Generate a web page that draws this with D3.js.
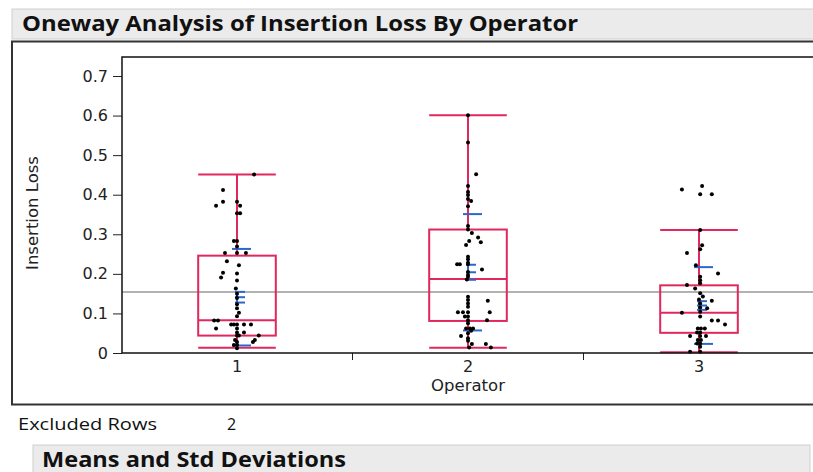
<!DOCTYPE html>
<html>
<head>
<meta charset="utf-8">
<script src="https://cdn.jsdelivr.net/npm/d3@7"></script>
<style>
  body { margin: 0; background: #fff; }
  svg { display: block; }
</style>
</head>
<body>
<svg id="chart" width="813" height="472"></svg>
<script>
// categories and tick labels
var operators = ["1", "2", "3"];
var yTicks = [0, 0.1, 0.2, 0.3, 0.4, 0.5, 0.6, 0.7];

// box plot summaries, one entry per operator
var whiskerLow  = [0.013, 0.013, 0.002];
var quartile1   = [0.044, 0.081, 0.051];
var medians     = [0.083, 0.187, 0.102];
var quartile3   = [0.246, 0.312, 0.171];
var whiskerHigh = [0.451, 0.601, 0.311];
var means       = [0.141, 0.204, 0.120];
var stdDevs     = [0.122, 0.147, 0.097];
var stdErrs     = [0.0135, 0.019, 0.011];
var grandMean   = 0.154;

// observations: [insertion loss, jitter as a fraction of the half box width]
var operator1 = [
  [0.451, 0.44], [0.412, -0.36], [0.382, -0.36], [0.382, 0], [0.372, -0.54], [0.372, 0.08],
  [0.353, 0], [0.353, 0.08], [0.283, -0.08], [0.283, 0], [0.269, 0], [0.253, -0.31],
  [0.253, 0], [0.253, 0.23], [0.232, -0.26], [0.222, 0.05], [0.203, -0.36], [0.191, -0.41],
  [0.201, 0], [0.183, 0], [0.163, -0.03], [0.150, 0], [0.139, 0], [0.123, 0],
  [0.113, 0], [0.102, 0.05], [0.093, 0], [0.082, -0.59], [0.082, -0.49], [0.072, -0.15],
  [0.072, -0.08], [0.072, 0], [0.072, 0.18], [0.072, 0.36], [0.062, -0.54], [0.062, 0],
  [0.052, 0], [0.052, 0.18], [0.044, 0], [0.044, 0.05], [0.044, 0.56], [0.033, -0.05],
  [0.033, 0.46], [0.028, 0], [0.028, 0.41], [0.020, -0.08], [0.020, 0], [0.012, 0]
];
var operator2 = [
  [0.601, 0], [0.532, 0], [0.452, 0.21], [0.422, 0], [0.407, 0], [0.399, 0],
  [0.389, 0], [0.384, 0.08], [0.371, 0], [0.321, 0], [0.312, 0], [0.303, 0.10],
  [0.292, 0.26], [0.283, 0.03], [0.280, 0.33], [0.273, -0.05], [0.243, 0], [0.237, 0],
  [0.228, 0], [0.224, -0.28], [0.224, -0.21], [0.224, 0], [0.211, 0.36], [0.205, 0],
  [0.197, 0], [0.193, 0], [0.186, -0.03], [0.142, 0], [0.134, 0], [0.125, 0],
  [0.117, 0], [0.132, 0.51], [0.103, -0.26], [0.103, -0.13], [0.103, 0], [0.103, 0.56],
  [0.092, -0.08], [0.092, 0], [0.083, 0.49], [0.083, 0], [0.075, 0], [0.062, -0.05],
  [0.062, 0.05], [0.062, 0.13], [0.056, 0.08], [0.050, 0], [0.043, -0.18], [0.037, 0],
  [0.031, 0], [0.023, 0.46], [0.023, 0.10], [0.014, 0.03], [0.014, 0.59]
];
var operator3 = [
  [0.422, 0.08], [0.413, -0.44], [0.401, 0.03], [0.401, 0.33], [0.311, 0.03], [0.272, 0.08],
  [0.262, 0.03], [0.253, -0.31], [0.222, -0.08], [0.201, 0.49], [0.193, 0.03], [0.184, 0.03],
  [0.176, 0.03], [0.172, -0.31], [0.163, -0.10], [0.151, 0.03], [0.143, 0.10], [0.135, 0],
  [0.132, 0.33], [0.125, 0.03], [0.115, 0.03], [0.113, 0.21], [0.104, 0.03], [0.102, -0.44],
  [0.092, 0.03], [0.082, 0.33], [0.082, 0.49], [0.072, 0.67], [0.062, -0.03], [0.062, 0.05],
  [0.062, 0.15], [0.052, -0.05], [0.052, 0.03], [0.043, -0.23], [0.043, 0.03], [0.043, 0.18],
  [0.033, -0.03], [0.033, 0.05], [0.024, -0.05], [0.024, 0.03], [0.016, 0.03], [0.003, -0.23],
  [0.003, 0.03]
];
var observations = [operator1, operator2, operator3];

var pink = "#e0285e", blue = "#2c68c9";
var plot = { left: 122, top: 57, right: 815, bottom: 353 };
var labelFont = "'DejaVu Sans', sans-serif";

var svg = d3.select("#chart");

// ---- report chrome ----
svg.append("rect").attr("x", 12).attr("y", 9).attr("width", 810).attr("height", 30)
    .attr("fill", "#ebebeb").attr("stroke", "#cfcfcf");
svg.append("text").attr("x", 22).attr("y", 31)
    .attr("textLength", 556).attr("lengthAdjust", "spacingAndGlyphs")
    .style("font-family", "'Open Sans', sans-serif").style("font-weight", 700)
    .style("font-size", "22px").style("fill", "#111")
    .text("Oneway Analysis of Insertion Loss By Operator");

svg.append("rect").attr("x", 12).attr("y", 41.5).attr("width", 820).attr("height", 363)
    .attr("fill", "#fff").attr("stroke", "#333").attr("stroke-width", 2);

// ---- scales ----
var y = d3.scaleLinear().domain([0, 0.748]).range([plot.bottom, plot.top]);
var x = d3.scaleBand().domain(operators).range([121.5, 814.5]);
var bw = x.bandwidth();
var halfBox = bw * 0.168;
function cx(i) { return x(operators[i]) + bw / 2; }

// ---- axes ----
var yAxis = svg.append("g").attr("transform", "translate(" + plot.left + ",0)")
    .call(d3.axisLeft(y).tickValues(yTicks).tickSize(9).tickPadding(5)
      .tickFormat(function(d) { return d === 0 ? "0" : d3.format(".1f")(d); }));
yAxis.select(".domain").remove();
yAxis.selectAll("line").attr("stroke", "#222");
yAxis.selectAll("text").style("font-family", labelFont)
    .style("font-size", "16px").style("fill", "#222");

var xAxis = svg.append("g").attr("transform", "translate(0," + plot.bottom + ")")
    .call(d3.axisBottom(x).tickSize(0).tickPadding(8));
xAxis.select(".domain").remove();
xAxis.selectAll("text").style("font-family", labelFont)
    .style("font-size", "16px").style("fill", "#222");

// minor ticks between the operator groups
svg.append("g").selectAll("line").data(operators.slice(1)).join("line")
    .attr("x1", function(d) { return x(d); }).attr("x2", function(d) { return x(d); })
    .attr("y1", plot.bottom).attr("y2", plot.bottom + 7)
    .attr("stroke", "#222");

svg.append("text").attr("transform", "translate(38," + ((plot.top + plot.bottom) / 2 + 8) + ") rotate(-90)")
    .attr("text-anchor", "middle")
    .style("font-family", labelFont).style("font-size", "16.5px").style("fill", "#222")
    .text("Insertion Loss");
svg.append("text").attr("x", cx(1)).attr("y", 391).attr("text-anchor", "middle")
    .style("font-family", labelFont).style("font-size", "16.5px").style("fill", "#222")
    .text("Operator");

// ---- plot area ----
var g = svg.append("g");
g.append("line").attr("x1", plot.left).attr("x2", plot.right)
    .attr("y1", y(grandMean)).attr("y2", y(grandMean))
    .attr("stroke", "#999").attr("stroke-width", 1.5);

operators.forEach(function(op, i) {
  var c = cx(i), box = g.append("g").attr("fill", "none").attr("stroke", pink).attr("stroke-width", 2);
  box.append("line").attr("x1", c).attr("x2", c).attr("y1", y(quartile3[i])).attr("y2", y(whiskerHigh[i]));
  box.append("line").attr("x1", c).attr("x2", c).attr("y1", y(quartile1[i])).attr("y2", y(whiskerLow[i]));
  [whiskerHigh[i], whiskerLow[i], medians[i]].forEach(function(v) {
    box.append("line").attr("x1", c - halfBox).attr("x2", c + halfBox).attr("y1", y(v)).attr("y2", y(v));
  });
  box.append("rect").attr("x", c - halfBox).attr("y", y(quartile3[i]))
      .attr("width", halfBox * 2).attr("height", y(quartile1[i]) - y(quartile3[i]));

  // std dev lines and mean error bars
  var b = g.append("g").attr("stroke", blue).attr("stroke-width", 2);
  [means[i] + stdDevs[i], means[i] - stdDevs[i]].forEach(function(v) {
    b.append("line").attr("x1", c - 5).attr("x2", c + 14).attr("y1", y(v)).attr("y2", y(v));
  });
  b.append("line").attr("x1", c).attr("x2", c)
      .attr("y1", y(means[i] + stdErrs[i])).attr("y2", y(means[i] - stdErrs[i]));
  [means[i] + stdErrs[i], means[i], means[i] - stdErrs[i]].forEach(function(v) {
    b.append("line").attr("x1", c - 2).attr("x2", c + 8).attr("y1", y(v)).attr("y2", y(v));
  });

  g.append("g").selectAll("circle").data(observations[i]).join("circle")
      .attr("cx", function(d) { return c + d[1] * halfBox; })
      .attr("cy", function(d) { return y(d[0]); })
      .attr("r", 2).attr("fill", "#000");
});

// plot frame
svg.append("rect").attr("x", plot.left).attr("y", plot.top)
    .attr("width", plot.right - plot.left).attr("height", plot.bottom - plot.top)
    .attr("fill", "none").attr("stroke", "#111").attr("stroke-width", 1.5);

// ---- below the plot ----
svg.append("text").attr("x", 18).attr("y", 430)
    .style("font-family", "'Open Sans', sans-serif").style("font-size", "16px").style("fill", "#111")
    .attr("textLength", 139).attr("lengthAdjust", "spacingAndGlyphs")
    .text("Excluded Rows");
svg.append("text").attr("x", 227).attr("y", 430)
    .style("font-family", "'Open Sans', sans-serif").style("font-size", "16px").style("fill", "#111")
    .text("2");

svg.append("rect").attr("x", 33).attr("y", 445).attr("width", 777).attr("height", 30)
    .attr("fill", "#ebebeb").attr("stroke", "#cfcfcf");
svg.append("text").attr("x", 42).attr("y", 467)
    .attr("textLength", 304).attr("lengthAdjust", "spacingAndGlyphs")
    .style("font-family", "'Open Sans', sans-serif").style("font-weight", 700)
    .style("font-size", "21px").style("fill", "#111")
    .text("Means and Std Deviations");
</script>
</body>
</html>
